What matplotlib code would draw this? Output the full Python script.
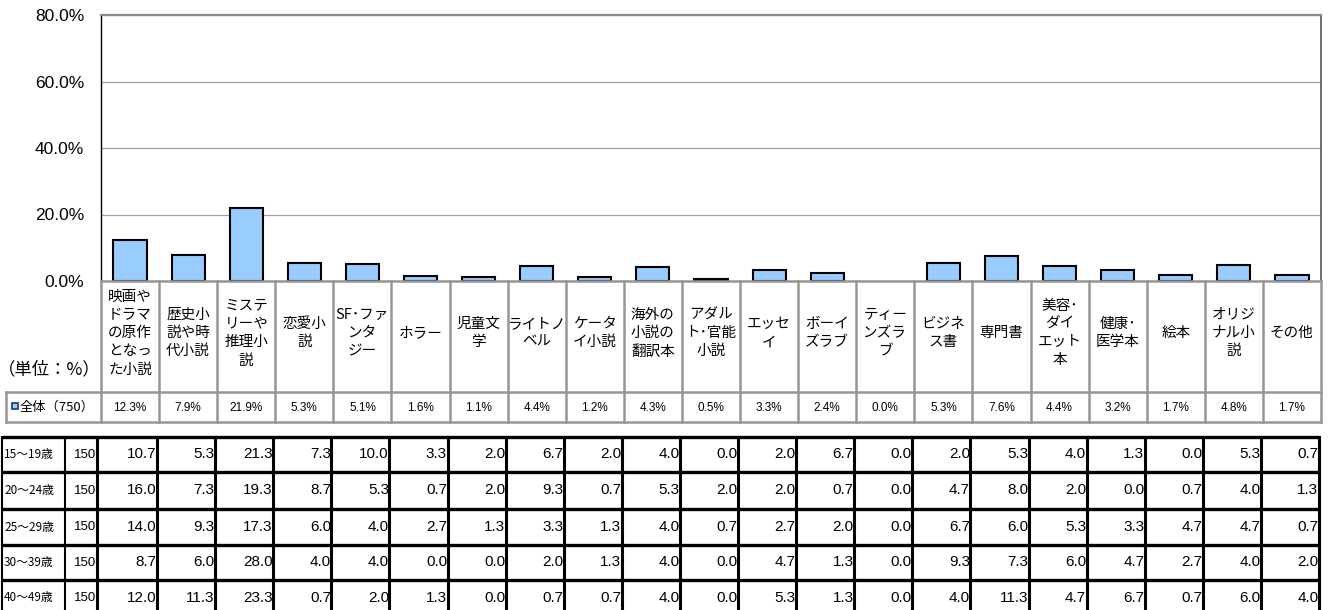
import matplotlib
matplotlib.use("Agg")
import matplotlib.pyplot as plt
from matplotlib.patches import Rectangle
from matplotlib.ticker import FuncFormatter

# ---------------- data ----------------
categories = ["映画や\nドラマ\nの原作\nとなっ\nた小説", "歴史小\n説や時\n代小説", "ミステ\nリーや\n推理小\n説",
              "恋愛小\n説", "SF･ファ\nンタ\nジー", "ホラー", "児童文\n学", "ライトノ\nベル", "ケータ\nイ小説",
              "海外の\n小説の\n翻訳本", "アダル\nト･官能\n小説", "エッセ\nイ", "ボーイ\nズラブ", "ティー\nンズラ\nブ",
              "ビジネ\nス書", "専門書", "美容･\nダイ\nエット\n本", "健康･\n医学本", "絵本", "オリジ\nナル小\n説", "その他"]
overall = [12.3, 7.9, 21.9, 5.3, 5.1, 1.6, 1.1, 4.4, 1.2, 4.3, 0.5, 3.3, 2.4, 0.0, 5.3, 7.6, 4.4, 3.2, 1.7, 4.8, 1.7]
overall_label = "全体（750）"
unit_label = "（単位：%）"
yticks = [0, 20, 40, 60, 80]

age_groups = ["15～19歳", "20～24歳", "25～29歳", "30～39歳", "40～49歳"]
age_n = [150, 150, 150, 150, 150]
age_15_19 = [10.7, 5.3, 21.3, 7.3, 10.0, 3.3, 2.0, 6.7, 2.0, 4.0, 0.0, 2.0, 6.7, 0.0, 2.0, 5.3, 4.0, 1.3, 0.0, 5.3, 0.7]
age_20_24 = [16.0, 7.3, 19.3, 8.7, 5.3, 0.7, 2.0, 9.3, 0.7, 5.3, 2.0, 2.0, 0.7, 0.0, 4.7, 8.0, 2.0, 0.0, 0.7, 4.0, 1.3]
age_25_29 = [14.0, 9.3, 17.3, 6.0, 4.0, 2.7, 1.3, 3.3, 1.3, 4.0, 0.7, 2.7, 2.0, 0.0, 6.7, 6.0, 5.3, 3.3, 4.7, 4.7, 0.7]
age_30_39 = [8.7, 6.0, 28.0, 4.0, 4.0, 0.0, 0.0, 2.0, 1.3, 4.0, 0.0, 4.7, 1.3, 0.0, 9.3, 7.3, 6.0, 4.7, 2.7, 4.0, 2.0]
age_40_49 = [12.0, 11.3, 23.3, 0.7, 2.0, 1.3, 0.0, 0.7, 0.7, 4.0, 0.0, 5.3, 1.3, 0.0, 4.0, 11.3, 4.7, 6.7, 0.7, 6.0, 4.0]
age_values = [age_15_19, age_20_24, age_25_29, age_30_39, age_40_49]

# ---------------- layout (pixels) ----------------
W, H = 1333, 610
JP = ["Noto Sans CJK JP", "DejaVu Sans"]
NUM = ["Liberation Sans", "Noto Sans CJK JP", "DejaVu Sans"]
X0, X1 = 101, 1321
Y_TOP, Y_ZERO = 15, 281
n = len(categories)
cw = (X1 - X0) / n
bounds = [X0 + cw * k for k in range(n + 1)]

fig = plt.figure(figsize=(W / 100, H / 100), dpi=100)
fig.patch.set_facecolor("white")

ax = fig.add_axes([X0 / W, (H - Y_ZERO) / H, (X1 - X0) / W, (Y_ZERO - Y_TOP) / H])
lws = [1.5 if v > 0 else 0 for v in overall]
ax.bar(range(n), overall, width=0.57, color="#99CCFF", edgecolor="black", linewidth=lws, zorder=3)
ax.set_xlim(-0.5, n - 0.5)
ax.set_ylim(0, 80)
ax.set_yticks(yticks)
ax.yaxis.set_major_formatter(FuncFormatter(lambda v, p: f"{v:.1f}%"))
ax.set_xticks([])
ax.tick_params(axis="y", length=0, pad=12, labelsize=12.5)
for lab in ax.get_yticklabels():
    lab.set_family(NUM)
ax.yaxis.grid(True, color="#a0a0a0", linewidth=0.9, zorder=0)
ax.spines["left"].set_color("black")
ax.spines["left"].set_linewidth(1.0)
ax.spines["top"].set_color("#8a8a8a")
ax.spines["top"].set_linewidth(1.6)
ax.spines["right"].set_color("#555555")
ax.spines["right"].set_linewidth(1.2)
ax.spines["bottom"].set_visible(False)

# overlay for tables
ov = fig.add_axes([0, 0, 1, 1], zorder=5)
ov.set_xlim(0, W)
ov.set_ylim(H, 0)
ov.axis("off")
ov.patch.set_alpha(0)

GRAY = "#969696"
HDR_BOT = 392
ROW_BOT = 422
ov.plot([X0, X1], [Y_ZERO, Y_ZERO], color=GRAY, lw=1.8)
ov.plot([6, X1], [HDR_BOT, HDR_BOT], color=GRAY, lw=1.8)
ov.plot([6, X1], [ROW_BOT, ROW_BOT], color=GRAY, lw=1.8)
ov.plot([6, 6], [HDR_BOT, ROW_BOT], color=GRAY, lw=1.8)
for b in bounds:
    ov.plot([b, b], [Y_ZERO, ROW_BOT], color=GRAY, lw=1.8)

LS = 18.3
for k, cat in enumerate(categories):
    lines = cat.split("\n")
    cx = (bounds[k] + bounds[k + 1]) / 2
    cy = 333
    for i, ln in enumerate(lines):
        y = cy + (i - (len(lines) - 1) / 2) * LS
        ov.text(cx, y, ln, ha="center", va="center", fontsize=10.5, family=JP)
    ov.text(cx, (HDR_BOT + ROW_BOT) / 2 + 1, f"{overall[k]:.1f}%", ha="center", va="center",
            fontsize=8.5, family=NUM)

ov.text(49, 369, unit_label, ha="center", va="center", fontsize=12.5, family=JP)
ov.add_patch(Rectangle((12, 403), 6, 6, facecolor="#99CCFF", edgecolor="#1f3a6e", lw=1.2))
ov.text(20, (HDR_BOT + ROW_BOT) / 2, overall_label, ha="left", va="center", fontsize=9.5, family=JP)

# lower table
T_TOP = 437
row_lines = [437, 472, 509, 545, 580, 616]
for y in row_lines:
    ov.plot([2, X1 - 2], [y, y], color="black", lw=2.4, solid_capstyle="butt")
ov.plot([2, 2], [T_TOP, H], color="black", lw=1.5)
ov.plot([65, 65], [T_TOP, H], color="black", lw=1.5)
ov.plot([97, 97], [T_TOP, H], color="black", lw=2.2)
for b in bounds[1:]:
    ov.plot([b - 2, b - 2], [T_TOP, H], color="black", lw=2.2)

for r, (grp, nn, vals) in enumerate(zip(age_groups, age_n, age_values)):
    yc = (row_lines[r] + row_lines[r + 1]) / 2
    ov.text(4, yc, grp, ha="left", va="center", fontsize=8.5, family=JP)
    ov.text(96, yc, str(nn), ha="right", va="center", fontsize=9.5, family=NUM)
    for k, v in enumerate(vals):
        ov.text(bounds[k + 1] - 2.5, yc, f"{v:.1f}", ha="right", va="center", fontsize=11, family=NUM)

fig.savefig("out.png", dpi=100)
